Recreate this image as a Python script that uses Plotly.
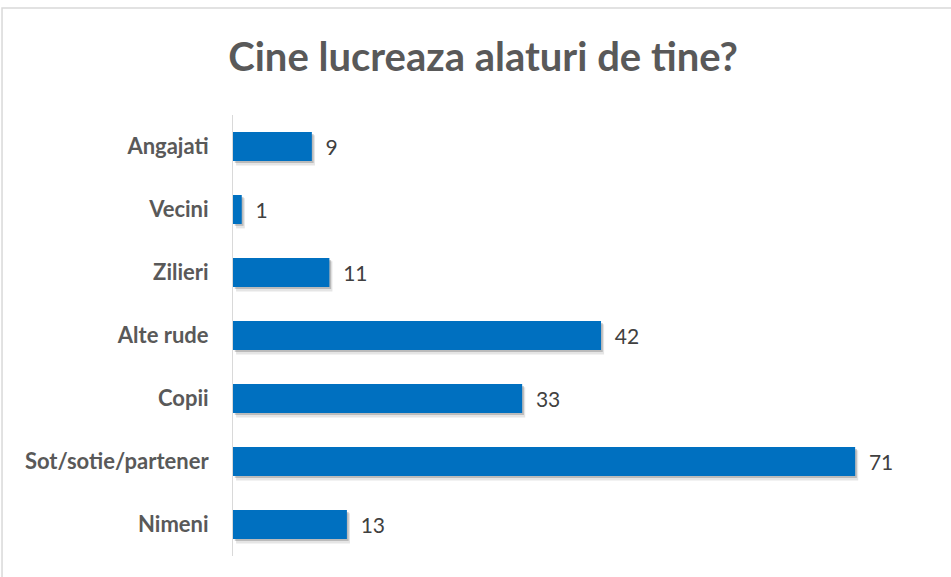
import plotly.graph_objects as go

categories = ["Angajati", "Vecini", "Zilieri", "Alte rude", "Copii", "Sot/sotie/partener", "Nimeni"]
counts = [9, 1, 11, 42, 33, 71, 13]
x_range = [0, 80]

BAR_BLUE = "#0070C0"
GREY_TEXT = "#595959"

fig = go.Figure()

# soft drop shadow under each bar (two layers to fake a blur)
fig.add_trace(go.Bar(
    y=categories, x=counts, base=0.35, orientation="h",
    width=0.48, offset=-0.18,
    marker=dict(color="rgba(0,0,0,0.10)", line=dict(width=0)),
    hoverinfo="skip", showlegend=False,
))
fig.add_trace(go.Bar(
    y=categories, x=counts, base=0.2, orientation="h",
    width=0.46, offset=-0.2,
    marker=dict(color="rgba(0,0,0,0.18)", line=dict(width=0)),
    hoverinfo="skip", showlegend=False,
))
fig.add_trace(go.Bar(
    y=categories, x=counts, orientation="h",
    width=0.46, offset=-0.23,
    marker=dict(color=BAR_BLUE, line=dict(width=0)),
    text=counts, texttemplate="\u00a0\u00a0%{x}", textposition="outside",
    textfont=dict(family="Lato", size=21, color="#404040"),
    cliponaxis=False, showlegend=False,
))

fig.update_layout(
    width=951, height=577,
    barmode="overlay",
    paper_bgcolor="white", plot_bgcolor="white",
    margin=dict(l=233, r=17, t=115, b=21),
    title=dict(
        text="<b>Cine lucreaza alaturi de tine?</b>",
        x=0.508, xanchor="center", y=0.902, yanchor="middle",
        font=dict(family="Lato", size=40, color=GREY_TEXT),
    ),
    xaxis=dict(range=x_range, visible=False, fixedrange=True),
    yaxis=dict(
        autorange="reversed", showline=True, linecolor="#D9D9D9", linewidth=1,
        showgrid=False, ticks="", ticklabelstandoff=19,
        tickfont=dict(family="Lato", size=22, color=GREY_TEXT, weight="bold"),
    ),
    shapes=[dict(
        type="rect", xref="paper", yref="paper",
        x0=-0.3295, x1=1.03, y0=-0.1, y1=1.2426,
        line=dict(color="#D9D9D9", width=1.5), fillcolor="rgba(0,0,0,0)", layer="below",
    )],
)

fig.write_html(
    "out.html",
    config={"displayModeBar": False},
    post_script="document.body.style.margin='0';",
)
